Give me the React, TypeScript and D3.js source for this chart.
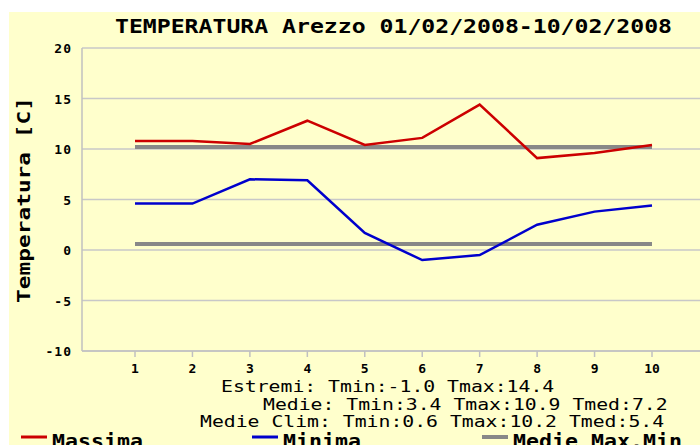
import React from 'react';
import * as d3 from 'd3';

const days = [1, 2, 3, 4, 5, 6, 7, 8, 9, 10];
const massima = [10.8, 10.8, 10.5, 12.8, 10.4, 11.1, 14.4, 9.1, 9.6, 10.4];
const minima = [4.6, 4.6, 7.0, 6.9, 1.7, -1.0, -0.5, 2.5, 3.8, 4.4];
const climMax = 10.2;
const climMin = 0.6;
const yTicks = [20, 15, 10, 5, 0, -5, -10];

const title = 'TEMPERATURA Arezzo 01/02/2008-10/02/2008';
const statLines = [
  'Estremi: Tmin:-1.0 Tmax:14.4',
  'Medie: Tmin:3.4 Tmax:10.9 Tmed:7.2',
  'Medie Clim: Tmin:0.6 Tmax:10.2 Tmed:5.4',
];
const legendItems = [
  { label: 'Massima', color: '#cc0000' },
  { label: 'Minima', color: '#0000cc' },
  { label: 'Medie Max.Min', color: '#888888' },
];

const W = 700;
const H = 445;
const plot = { left: 82, top: 48, bottom: 351 };
const mono = '"DejaVu Sans Mono", monospace';

export default function App() {
  const x = d3.scaleLinear().domain([1, 10]).range([135, 652]);
  const y = d3.scaleLinear().domain([-10, 20]).range([plot.bottom, plot.top]);

  const line = d3.line<number>()
    .x((_, i) => x(days[i]))
    .y(d => y(d));

  const statX = [221, 263, 200];
  const statBase = [392, 410, 427];
  const legendX = [21, 252, 482];

  return (
    <div style={{ position: 'absolute', left: 0, top: 0 }}>
      <svg width={W} height={H} style={{ display: 'block' }}>
        <rect x={0} y={0} width={W} height={H} fill="#ffffff" />
        <rect x={9} y={12} width={W - 9} height={H - 12} fill="#ffffcc" />

        <text x={115} y={33} fontFamily={mono} fontWeight="bold" fontSize={19}
          textLength={557} lengthAdjust="spacingAndGlyphs" fill="#000">{title}</text>

        {/* grid */}
        {yTicks.map(t => (
          <line key={t} x1={plot.left} x2={W} y1={y(t)} y2={y(t)} stroke="#c8c8c8" strokeWidth={1.5} />
        ))}
        <line x1={plot.left} x2={plot.left} y1={plot.top} y2={plot.bottom} stroke="#c0c0c0" strokeWidth={1.5} />
        <line x1={plot.left} x2={W} y1={plot.bottom} y2={plot.bottom} stroke="#c0c0c0" strokeWidth={1.5} />

        {yTicks.map(t => (
          <text key={t} x={72} y={y(t) + 5} textAnchor="end" fontFamily={mono} fontWeight="bold"
            fontSize={13} letterSpacing={1} fill="#000">{t}</text>
        ))}
        {days.map(d => (
          <g key={d}>
            <line x1={x(d)} x2={x(d)} y1={plot.bottom} y2={plot.bottom + 6} stroke="#c0c0c0" strokeWidth={1.5} />
            <text x={x(d)} y={373} textAnchor="middle" fontFamily={mono} fontWeight="bold"
              fontSize={13} fill="#000">{d}</text>
          </g>
        ))}

        <text transform="translate(30,200) rotate(-90)" textAnchor="middle" fontFamily={mono}
          fontWeight="bold" fontSize={17} textLength={206} lengthAdjust="spacingAndGlyphs"
          fill="#000">Temperatura [C]</text>

        {/* climatological means */}
        {[climMax, climMin].map(v => (
          <line key={v} x1={x(1)} x2={x(10)} y1={y(v)} y2={y(v)} stroke="#888888" strokeWidth={4} />
        ))}

        <path d={line(massima) ?? ''} fill="none" stroke="#cc0000" strokeWidth={2.5} />
        <path d={line(minima) ?? ''} fill="none" stroke="#0000cc" strokeWidth={2.5} />

        {statLines.map((s, i) => (
          <text key={i} x={statX[i]} y={statBase[i]} fontFamily={mono} fontSize={16.5}
            textLength={s.length * 11.9} lengthAdjust="spacingAndGlyphs" fill="#000">{s}</text>
        ))}

        {legendItems.map((it, i) => (
          <g key={it.label}>
            <line x1={legendX[i]} x2={legendX[i] + 26} y1={437} y2={437} stroke={it.color}
              strokeWidth={it.label === 'Medie Max.Min' ? 4 : 3} />
            <text x={legendX[i] + 31} y={448} fontFamily={mono} fontWeight="bold" fontSize={19}
              textLength={it.label.length * 13} lengthAdjust="spacingAndGlyphs" fill="#000">{it.label}</text>
          </g>
        ))}
      </svg>
    </div>
  );
}
